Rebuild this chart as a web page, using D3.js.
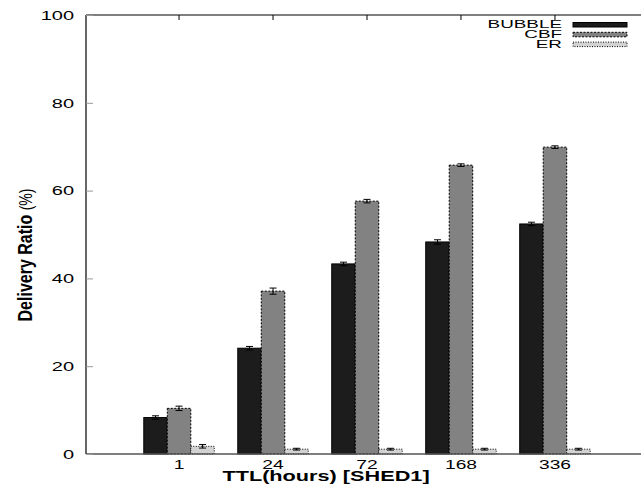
<!DOCTYPE html>
<html>
<head>
<meta charset="utf-8">
<script src="https://cdn.jsdelivr.net/npm/d3@7"></script>
<style>
  html, body { margin: 0; padding: 0; background: #fff; }
  svg { display: block; }
  text { font-family: "Liberation Sans", Arial, Helvetica, sans-serif; }
</style>
</head>
<body>
<svg id="chart" width="641" height="491"></svg>
<script>
// TTL categories (hours) and the delivery ratio per routing scheme
const categories = ["1", "24", "72", "168", "336"];
const seriesNames = ["BUBBLE", "CBF", "ER"];
const bubble = [8.3, 24.1, 43.3, 48.3, 52.4];
const cbf = [10.4, 37.1, 57.6, 65.8, 69.9];
const er = [1.75, 1.1, 1.1, 1.1, 1.1];
const bubbleErr = [0.4, 0.4, 0.4, 0.5, 0.4];
const cbfErr = [0.5, 0.7, 0.4, 0.3, 0.3];
const erErr = [0.4, 0.2, 0.2, 0.2, 0.2];
const yTicks = [0, 20, 40, 60, 80, 100];

const values = { BUBBLE: bubble, CBF: cbf, ER: er };
const errors = { BUBBLE: bubbleErr, CBF: cbfErr, ER: erErr };
const styles = {
  BUBBLE: { fill: "#1c1c1c", dash: null },
  CBF: { fill: "#828282", dash: "2,1.5" },
  ER: { fill: "#d2d2d2", dash: "1,1.5" }
};

const svg = d3.select("#chart");
const plotLeft = 86, plotRight = 648, plotTop = 15, plotBottom = 454;
const sx = 1.6; // horizontal stretch of the lettering

const x = d3.scaleBand().domain(categories).range([plotLeft, plotRight])
  .paddingInner(0.25).paddingOuter(0.615);
const xs = d3.scaleBand().domain(seriesNames).range([0, x.bandwidth()]);
const y = d3.scaleLinear().domain([0, 100]).range([plotBottom, plotTop]);

// Bars
seriesNames.forEach(s => {
  const st = styles[s];
  svg.append("g").selectAll("rect")
    .data(categories.map((c, i) => ({ c, v: values[s][i], e: errors[s][i] })))
    .join("rect")
    .attr("x", d => x(d.c) + xs(s))
    .attr("y", d => y(d.v))
    .attr("width", xs.bandwidth())
    .attr("height", d => y(0) - y(d.v))
    .attr("fill", st.fill)
    .attr("stroke", "#000")
    .attr("stroke-width", 1)
    .attr("stroke-dasharray", st.dash);
});

// Error bars
seriesNames.forEach(s => {
  const g = svg.append("g").attr("stroke", "#000").attr("stroke-width", 1);
  categories.forEach((c, i) => {
    const cx = x(c) + xs(s) + xs.bandwidth() / 2;
    const v = values[s][i], e = errors[s][i];
    g.append("line").attr("x1", cx).attr("x2", cx).attr("y1", y(v - e)).attr("y2", y(v + e));
    g.append("line").attr("x1", cx - 3.5).attr("x2", cx + 3.5).attr("y1", y(v - e)).attr("y2", y(v - e));
    g.append("line").attr("x1", cx - 3.5).attr("x2", cx + 3.5).attr("y1", y(v + e)).attr("y2", y(v + e));
  });
});

// Frame lines
svg.append("line").attr("x1", plotLeft).attr("x2", plotLeft).attr("y1", plotTop).attr("y2", plotBottom)
  .attr("stroke", "#000").attr("stroke-width", 1.2);
svg.append("line").attr("x1", plotLeft).attr("x2", 641).attr("y1", plotTop).attr("y2", plotTop)
  .attr("stroke", "#000").attr("stroke-width", 1.2);
svg.append("line").attr("x1", plotLeft).attr("x2", 641).attr("y1", plotBottom).attr("y2", plotBottom)
  .attr("stroke", "#555").attr("stroke-width", 1.5);

// Left axis
const yAxis = svg.append("g").attr("transform", `translate(${plotLeft},0)`)
  .call(d3.axisLeft(y).tickValues(yTicks).tickSize(-7).tickPadding(0));
yAxis.select(".domain").remove();
yAxis.selectAll(".tick line").attr("stroke", "#999");
yAxis.selectAll(".tick text")
  .attr("x", 0).attr("dy", "0.35em")
  .attr("transform", `translate(-12,0) scale(${sx},1)`)
  .attr("font-size", 12.5).attr("fill", "#000")
  .style("font-family", "'Liberation Sans', Arial, sans-serif");

// Right mirror ticks
svg.append("g").selectAll("line").data(yTicks.slice(1, 5)).join("line")
  .attr("x1", plotRight - 7).attr("x2", plotRight).attr("y1", d => y(d)).attr("y2", d => y(d))
  .attr("stroke", "#bbb");

// Top mirror ticks
svg.append("g").selectAll("line").data(categories).join("line")
  .attr("x1", d => x(d) + x.bandwidth() / 2).attr("x2", d => x(d) + x.bandwidth() / 2)
  .attr("y1", plotTop).attr("y2", plotTop + 5).attr("stroke", "#000");

// Bottom axis labels
const xAxis = svg.append("g").attr("transform", `translate(0,${plotBottom})`)
  .call(d3.axisBottom(x).tickSize(0).tickPadding(0));
xAxis.select(".domain").remove();
xAxis.selectAll(".tick text")
  .attr("y", 0).attr("dy", 0)
  .attr("transform", `translate(0,14.5) scale(${sx},1)`)
  .attr("font-size", 12).attr("fill", "#000")
  .style("font-family", "'Liberation Sans', Arial, sans-serif");

// Axis titles
svg.append("text")
  .attr("transform", `translate(326,480.5) scale(1.55,1)`)
  .attr("text-anchor", "middle")
  .attr("font-size", 14).attr("font-weight", "bold")
  .text("TTL(hours) [SHED1]");

const yTitle = svg.append("text")
  .attr("transform", `translate(32,255) scale(1.3,1) rotate(-90)`)
  .attr("text-anchor", "middle")
  .attr("font-size", 16).attr("font-weight", "bold");
yTitle.append("tspan").text("Delivery Ratio ");
yTitle.append("tspan").attr("font-weight", "normal").attr("font-size", 14).text("(%)");

// Legend
const legend = svg.append("g");
seriesNames.forEach((s, i) => {
  const st = styles[s];
  const baseY = 28 + i * 9.8;
  legend.append("text")
    .attr("transform", `translate(562,${baseY}) scale(1.67,1)`)
    .attr("text-anchor", "end")
    .attr("font-size", 11.3)
    .text(s);
  legend.append("rect")
    .attr("x", 573).attr("y", baseY - 5.5).attr("width", 54).attr("height", 4.5)
    .attr("fill", st.fill).attr("stroke", "#000").attr("stroke-width", 1)
    .attr("stroke-dasharray", st.dash);
});
</script>
</body>
</html>
